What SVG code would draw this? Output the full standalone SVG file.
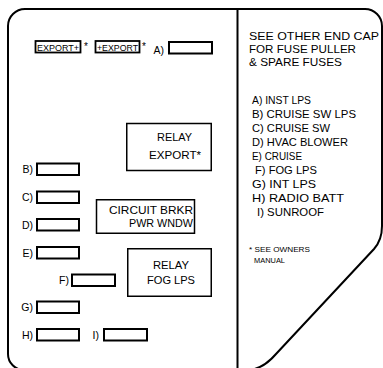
<svg xmlns="http://www.w3.org/2000/svg" width="383" height="368" viewBox="0 0 383 368">
<style>
text{font-family:"Liberation Sans",Arial,sans-serif;fill:#000}
.fuse{fill:#fff;stroke:#000;stroke-width:2}
.relay{fill:#fff;stroke:#000;stroke-width:1.5}
.exp{fill:#fff;stroke:#000;stroke-width:1.8}
.lbl{font-size:10.5px}
.lg{font-size:10.8px}
.rl{font-size:10.5px}
.sm{font-size:8px}
.ex{font-size:9px}
</style>
<rect width="383" height="368" fill="#fff"/>
<g id="outline" fill="none" stroke="#000" stroke-width="2">
<path d="M8,26 A17,17 0 0 1 25,9 L365,9 A17,17 0 0 1 382,26 L382,226 Q382,240 374,249 L276,354 Q264,368 250,370 L24,370 A16,16 0 0 1 8,354 Z"/>
<line x1="237.5" y1="9" x2="237.5" y2="370"/>
</g>
<g id="export-left">
<rect class="exp" x="35.5" y="41" width="45" height="11.5"/>
<text class="ex" x="37" y="50.5" textLength="42" lengthAdjust="spacingAndGlyphs">EXPORT+</text>
<text x="84" y="50" font-size="10">*</text>
</g>
<g id="export-right">
<rect class="exp" x="95.5" y="41" width="44" height="11.5"/>
<text class="ex" x="97" y="50.5" textLength="41" lengthAdjust="spacingAndGlyphs">+EXPORT</text>
<text x="142" y="50" font-size="10">*</text>
</g>
<g id="fuse-a"><text class="lbl" x="164" y="53.5" text-anchor="end">A)</text><rect class="fuse" x="169" y="42" width="43" height="11.5"/></g>
<g id="fuse-b"><text class="lbl" x="33" y="173" text-anchor="end">B)</text><rect class="fuse" x="37" y="163.5" width="42" height="11.5"/></g>
<g id="fuse-c"><text class="lbl" x="33" y="201" text-anchor="end">C)</text><rect class="fuse" x="37" y="191.5" width="42" height="11.5"/></g>
<g id="fuse-d"><text class="lbl" x="33" y="228.5" text-anchor="end">D)</text><rect class="fuse" x="37" y="219" width="42" height="11.5"/></g>
<g id="fuse-e"><text class="lbl" x="33" y="256.5" text-anchor="end">E)</text><rect class="fuse" x="37" y="247" width="42" height="11.5"/></g>
<g id="fuse-f"><text class="lbl" x="69" y="284" text-anchor="end">F)</text><rect class="fuse" x="72" y="274.5" width="43" height="11.5"/></g>
<g id="fuse-g"><text class="lbl" x="33" y="311" text-anchor="end">G)</text><rect class="fuse" x="37" y="301.5" width="42" height="11.5"/></g>
<g id="fuse-h"><text class="lbl" x="33" y="338.5" text-anchor="end">H)</text><rect class="fuse" x="37" y="329" width="42" height="11.5"/></g>
<g id="fuse-i"><text class="lbl" x="99" y="338.5" text-anchor="end">I)</text><rect class="fuse" x="104" y="329" width="43" height="11.5"/></g>
<g id="relay-export">
<rect class="relay" x="126.75" y="123.5" width="84.5" height="47"/>
<text class="rl" x="174.5" y="140.5" text-anchor="middle" textLength="35" lengthAdjust="spacingAndGlyphs">RELAY</text>
<text class="rl" x="175" y="159" text-anchor="middle" textLength="52" lengthAdjust="spacingAndGlyphs">EXPORT*</text>
</g>
<g id="circuit-breaker">
<rect class="relay" x="96.5" y="199.75" width="98" height="33.5"/>
<text class="rl" x="109" y="214" textLength="84" lengthAdjust="spacingAndGlyphs">CIRCUIT BRKR</text>
<text class="rl" x="129" y="227" textLength="64" lengthAdjust="spacingAndGlyphs">PWR WNDW</text>
</g>
<g id="relay-fog">
<rect class="relay" x="127.75" y="248.75" width="83.5" height="47.5"/>
<text class="rl" x="171" y="269" text-anchor="middle" textLength="36" lengthAdjust="spacingAndGlyphs">RELAY</text>
<text class="rl" x="171" y="284" text-anchor="middle" textLength="48" lengthAdjust="spacingAndGlyphs">FOG LPS</text>
</g>
<g id="legend">
<text class="lg" x="249" y="40" textLength="130" lengthAdjust="spacingAndGlyphs">SEE OTHER END CAP</text>
<text class="lg" x="249" y="53" textLength="107" lengthAdjust="spacingAndGlyphs">FOR FUSE PULLER</text>
<text class="lg" x="249" y="66" textLength="93" lengthAdjust="spacingAndGlyphs">&amp; SPARE FUSES</text>
<text class="lg" x="252" y="104" textLength="59" lengthAdjust="spacingAndGlyphs">A) INST LPS</text>
<text class="lg" x="252" y="118" textLength="104" lengthAdjust="spacingAndGlyphs">B) CRUISE SW LPS</text>
<text class="lg" x="252" y="132" textLength="78" lengthAdjust="spacingAndGlyphs">C) CRUISE SW</text>
<text class="lg" x="252" y="146" textLength="96" lengthAdjust="spacingAndGlyphs">D) HVAC BLOWER</text>
<text class="lg" x="252" y="160" textLength="50" lengthAdjust="spacingAndGlyphs">E) CRUISE</text>
<text class="lg" x="255" y="174" textLength="62" lengthAdjust="spacingAndGlyphs">F) FOG LPS</text>
<text class="lg" x="252" y="188" textLength="64" lengthAdjust="spacingAndGlyphs">G) INT LPS</text>
<text class="lg" x="252" y="202" textLength="92" lengthAdjust="spacingAndGlyphs">H) RADIO BATT</text>
<text class="lg" x="257" y="216" textLength="67" lengthAdjust="spacingAndGlyphs">I) SUNROOF</text>
<text class="sm" x="249" y="252" textLength="61" lengthAdjust="spacingAndGlyphs">* SEE OWNERS</text>
<text class="sm" x="254" y="263" textLength="31" lengthAdjust="spacingAndGlyphs">MANUAL</text>
</g>
</svg>
